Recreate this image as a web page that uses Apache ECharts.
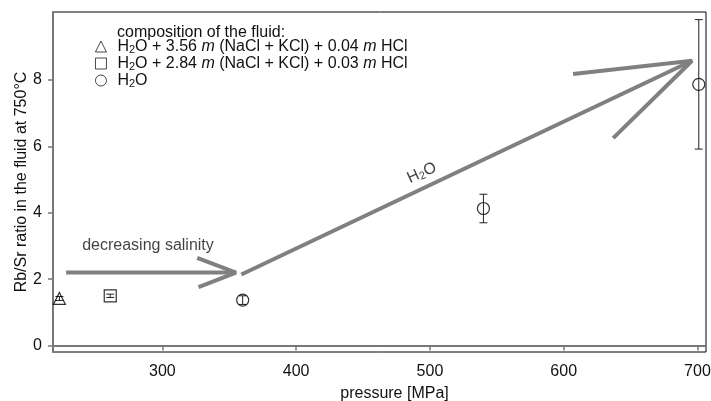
<!DOCTYPE html>
<html>
<head>
<meta charset="utf-8">
<script src="https://cdn.jsdelivr.net/npm/echarts@6/dist/echarts.min.js"></script>
<style>
  html, body { margin: 0; padding: 0; background: #fff; }
  #chart { width: 711px; height: 401px; }
</style>
</head>
<body>
<div id="chart"></div>
<script>
/* data */
var xTicks = [300, 400, 500, 600, 700];
var yTicks = [0, 2, 4, 6, 8];

// H2O + 3.56 m (NaCl + KCl) + 0.04 m HCl
var triPressure = [223];
var triRatio = [1.42];
var triError = [0.06];
// H2O + 2.84 m (NaCl + KCl) + 0.03 m HCl
var sqPressure = [261];
var sqRatio = [1.5];
var sqError = [0.05];
// pure H2O
var h2oPressure = [360, 540, 701];
var h2oRatio = [1.37, 4.13, 7.87];
var h2oError = [0.13, 0.43, 1.95];

// annotation arrows (pressure, ratio)
var salinityShaft = [[228, 2.2], [355, 2.2]];
var salinityHead = [[326, 2.64], [355, 2.2], [327, 1.76]];
var waterShaft = [[359, 2.14], [696, 8.58]];
var waterHead = [[607, 8.18], [696, 8.58], [637, 6.25]];

// annotation texts (pressure, ratio)
var salinityLabel = [240, 3.01];
var waterLabel = [494, 5.2];

var FONT = "'Liberation Sans', Helvetica, Arial, sans-serif";
var FS = 16;

function pairs(xs, ys, es) {
  return xs.map(function (x, i) { return es ? [x, ys[i], es[i]] : [x, ys[i]]; });
}

(function () {
  var myChart = echarts.init(document.getElementById('chart'));

  /* 误差棒 */
  function errorBar(params, api) {
    var x = api.value(0), y = api.value(1), e = api.value(2);
    var top = api.coord([x, y + e]);
    var bot = api.coord([x, y - e]);
    var w = 4;
    var st = { stroke: '#222', lineWidth: 1 };
    return {
      type: 'group',
      children: [
        { type: 'line', shape: { x1: top[0], y1: top[1], x2: bot[0], y2: bot[1] }, style: st },
        { type: 'line', shape: { x1: top[0] - w, y1: top[1], x2: top[0] + w, y2: top[1] }, style: st },
        { type: 'line', shape: { x1: bot[0] - w, y1: bot[1], x2: bot[0] + w, y2: bot[1] }, style: st }
      ]
    };
  }

  var richText = {
    n: { fontFamily: FONT, fontSize: FS, color: '#111', lineHeight: 17 },
    s: { fontFamily: FONT, fontSize: 11, color: '#111', lineHeight: 17, verticalAlign: 'bottom' },
    i: { fontFamily: FONT, fontSize: FS, color: '#111', fontStyle: 'italic', lineHeight: 17 }
  };

  var legendNames = {
    tri: '{n|H}{s|2}{n|O + 3.56 }{i|m}{n| (NaCl + KCl) + 0.04 }{i|m}{n| HCl}',
    sq: '{n|H}{s|2}{n|O + 2.84 }{i|m}{n| (NaCl + KCl) + 0.03 }{i|m}{n| HCl}',
    h2o: '{n|H}{s|2}{n|O}'
  };

  var markerStyle = { color: 'rgba(0,0,0,0)', borderColor: '#000', borderWidth: 1.2 };
  var arrowLine = { color: '#808080', width: 4, cap: 'butt' };

  function arrow(data) {
    return {
      type: 'line', data: data, symbol: 'none', silent: true,
      lineStyle: arrowLine, z: 1, animation: false
    };
  }

  var option = {
    animation: false,
    textStyle: { fontFamily: FONT },
    title: {
      text: 'composition of the fluid:',
      left: 117, top: 25, padding: 0,
      textStyle: { fontFamily: FONT, fontSize: FS, fontWeight: 'normal', color: '#111' }
    },
    legend: {
      data: ['tri', 'sq', 'h2o'],
      orient: 'vertical',
      left: 95, top: 38, padding: 0,
      itemGap: 0,
      itemWidth: 11, itemHeight: 11,
      itemStyle: { borderWidth: 0.9 },
      formatter: function (name) { return legendNames[name]; },
      textStyle: { padding: [0, 0, 0, 6], lineHeight: 17, rich: richText }
    },
    grid: {
      left: 53, right: 5, top: 12, bottom: 49,
      outerBoundsMode: 'none',
      show: true, borderColor: '#000', borderWidth: 1
    },
    xAxis: {
      type: 'value', min: 218.2, max: 706.4,
      name: 'pressure [MPa]', nameLocation: 'middle', nameGap: 34,
      nameMoveOverlap: false,
      nameTextStyle: { fontFamily: FONT, fontSize: FS, color: '#111', padding: [0, 0, 0, 30] },
      axisLine: { lineStyle: { color: '#777', width: 2 } },
      axisTick: { customValues: xTicks, length: 5, lineStyle: { color: '#777', width: 1.5 } },
      axisLabel: { customValues: xTicks, margin: 12, fontFamily: FONT, fontSize: FS, color: '#111' },
      splitLine: { show: false }
    },
    yAxis: {
      type: 'value', min: -0.193, max: 10.05,
      name: 'Rb/Sr ratio in the fluid at 750°C', nameLocation: 'middle', nameGap: 23,
      nameMoveOverlap: false,
      nameTextStyle: { fontFamily: FONT, fontSize: FS, color: '#111' },
      axisLine: { lineStyle: { color: '#777', width: 2 } },
      axisTick: { customValues: yTicks, length: 5, lineStyle: { color: '#777', width: 1.5 } },
      axisLabel: { customValues: yTicks, margin: 11, fontFamily: FONT, fontSize: FS, color: '#111' },
      splitLine: { show: false }
    },
    series: [
      arrow(salinityShaft), arrow(salinityHead), arrow(waterShaft), arrow(waterHead),
      {
        type: 'custom', renderItem: errorBar, z: 3, silent: true,
        data: pairs(triPressure, triRatio, triError)
          .concat(pairs(sqPressure, sqRatio, sqError))
          .concat(pairs(h2oPressure, h2oRatio, h2oError))
      },
      {
        name: 'tri', type: 'scatter', symbol: 'triangle', symbolSize: 12,
        itemStyle: markerStyle, z: 4, data: pairs(triPressure, triRatio)
      },
      {
        name: 'sq', type: 'scatter', symbol: 'rect', symbolSize: 12,
        itemStyle: markerStyle, z: 4, data: pairs(sqPressure, sqRatio)
      },
      {
        name: 'h2o', type: 'scatter', symbol: 'circle', symbolSize: 12,
        itemStyle: markerStyle, z: 4, data: pairs(h2oPressure, h2oRatio)
      },
      {
        type: 'scatter', symbolSize: 0, silent: true, z: 5,
        data: [salinityLabel],
        label: {
          show: true, position: 'right', distance: 0,
          formatter: 'decreasing salinity',
          fontFamily: FONT, fontSize: FS, color: '#111'
        }
      },
      {
        type: 'scatter', symbolSize: 0, silent: true, z: 5,
        data: [waterLabel],
        label: {
          show: true, position: 'inside', rotate: 25,
          formatter: '{n|H}{s|2}{n|O}', rich: richText
        }
      }
    ]
  };

  myChart.setOption(option);
  window.addEventListener('resize', function () {
    myChart.resize();
  });
})();
</script>
</body>
</html>
